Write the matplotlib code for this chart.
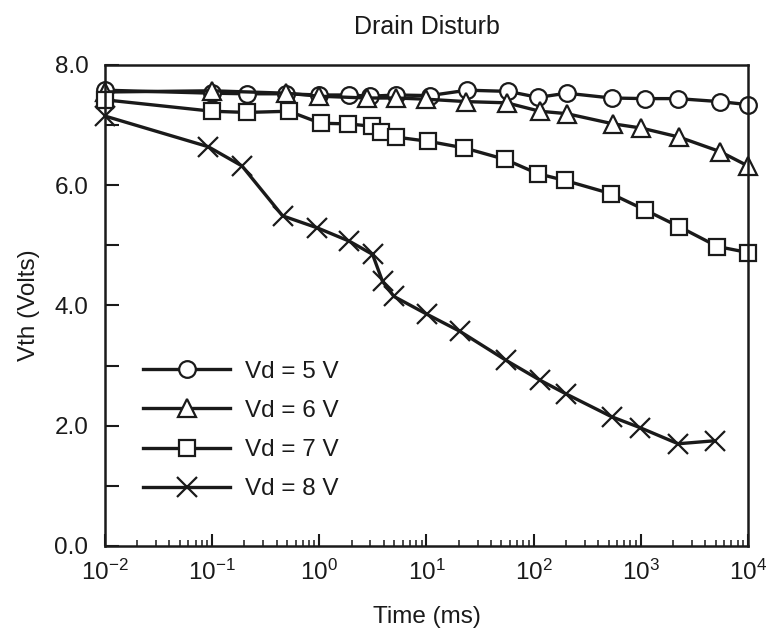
import matplotlib
matplotlib.use('Agg')
import matplotlib.pyplot as plt
from matplotlib.ticker import LogLocator, MultipleLocator, FormatStrFormatter

plt.rcParams['font.family'] = ['Liberation Sans', 'DejaVu Sans']
plt.rcParams['mathtext.fontset'] = 'custom'
plt.rcParams['mathtext.rm'] = 'Liberation Sans'
plt.rcParams['mathtext.it'] = 'Liberation Sans:italic'
plt.rcParams['mathtext.bf'] = 'Liberation Sans:bold'

# Vd = 5 V (circles)
t5 = [0.01, 0.1, 0.21, 0.49, 1.0, 1.9, 3.0, 5.2, 10.7, 24, 58, 110, 203, 533, 1090, 2200, 5460, 10000]
v5 = [7.58, 7.53, 7.52, 7.52, 7.50, 7.50, 7.48, 7.50, 7.49, 7.58, 7.56, 7.46, 7.53, 7.45, 7.44, 7.44, 7.39, 7.34]

# Vd = 6 V (triangles)
t6 = [0.01, 0.1, 0.49, 1.0, 2.76, 5.2, 10, 23.6, 56, 114, 203, 552, 1014, 2276, 5460, 10000]
v6 = [7.55, 7.57, 7.53, 7.48, 7.45, 7.45, 7.43, 7.39, 7.37, 7.23, 7.19, 7.02, 6.95, 6.80, 6.56, 6.32]

# Vd = 7 V (squares)
t7 = [0.01, 0.1, 0.21, 0.52, 1.03, 1.86, 3.1, 3.76, 5.2, 10.4, 22.5, 54, 110, 195, 525, 1090, 2276, 5190, 10000]
v7 = [7.42, 7.23, 7.21, 7.23, 7.03, 7.02, 6.98, 6.88, 6.80, 6.73, 6.62, 6.43, 6.19, 6.08, 5.86, 5.59, 5.31, 4.98, 4.88]

# Vd = 8 V (crosses)
t8 = [0.01, 0.092, 0.19, 0.455, 0.96, 1.9, 3.14, 3.89, 4.97, 10.2, 20.5, 55, 114, 200, 533, 977, 2230, 4900]
v8 = [7.15, 6.64, 6.32, 5.49, 5.29, 5.07, 4.85, 4.40, 4.15, 3.85, 3.57, 3.09, 2.76, 2.53, 2.15, 1.97, 1.70, 1.75]

labels = ['Vd = 5 V', 'Vd = 6 V', 'Vd = 7 V', 'Vd = 8 V']

ink = '#1a1a1a'
fig = plt.figure(figsize=(7.66, 6.28), dpi=100)
ax = fig.add_axes([0.137, 0.1306, 0.8395, 0.766])

common = dict(color=ink, lw=2.4, mfc='white', mec=ink, mew=1.6, clip_on=False)
ax.plot(t5, v5, marker='o', ms=12, label=labels[0], **common)
ax.plot(t6, v6, marker='^', ms=13, label=labels[1], **common)
ax.plot(t7, v7, marker='s', ms=11, label=labels[2], **common)
ax.plot(t8, v8, marker='x', ms=14, label=labels[3], **common)

ax.set_xscale('log')
ax.set_xlim(1e-2, 1e4)
ax.set_ylim(0, 8)

ax.yaxis.set_major_locator(MultipleLocator(2.0))
ax.yaxis.set_minor_locator(MultipleLocator(1.0))
ax.yaxis.set_major_formatter(FormatStrFormatter('%.1f'))
ax.xaxis.set_major_locator(LogLocator(base=10, numticks=10))
ax.xaxis.set_minor_locator(LogLocator(base=10, subs=range(2, 10), numticks=20))

ax.tick_params(axis='both', which='both', direction='in', colors=ink, labelsize=17.5,
               top=False, right=False)
ax.tick_params(axis='x', which='major', length=9, width=1.5, pad=10)
ax.tick_params(axis='x', which='minor', length=4.5, width=1.1)
ax.tick_params(axis='y', which='major', length=10, width=1.5, pad=12)
ax.tick_params(axis='y', which='minor', length=10, width=1.5)

for s in ax.spines.values():
    s.set_color(ink)
    s.set_linewidth(1.8)

ax.set_title('Drain Disturb', fontsize=18, color=ink, pad=22)
ax.set_xlabel('Time (ms)', fontsize=17.5, color=ink, labelpad=15)
ax.set_ylabel('Vth (Volts)', fontsize=17.5, color=ink, labelpad=10)

leg = ax.legend(loc='lower left', bbox_to_anchor=(0.025, 0.05), frameon=False,
                fontsize=17.5, handlelength=3.6, labelspacing=0.70, handletextpad=0.6)
for txt in leg.get_texts():
    txt.set_color(ink)

fig.savefig('out.png', dpi=100)
